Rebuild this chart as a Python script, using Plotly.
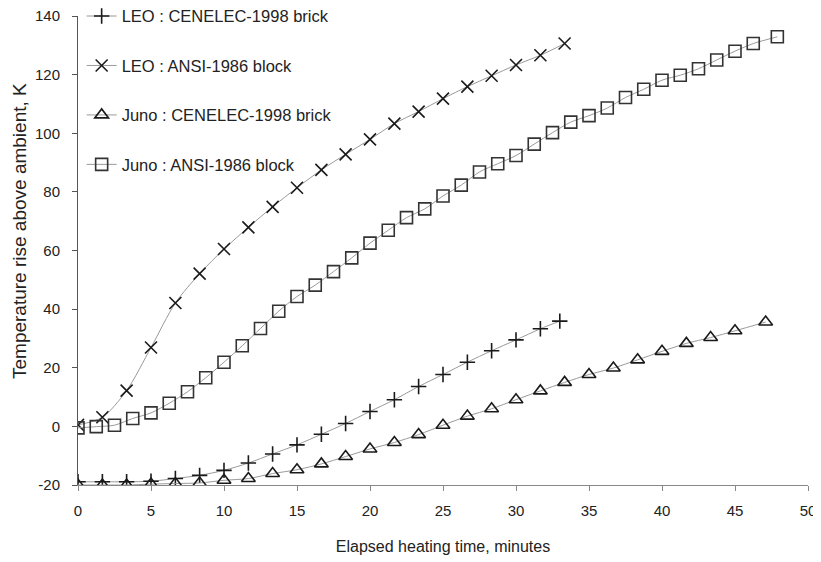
import plotly.graph_objects as go

# ---- data ----
leo_cen_t = [0, 1.67, 3.33, 5, 6.67, 8.33, 10, 11.67, 13.33, 15, 16.67, 18.33, 20,
             21.67, 23.33, 25, 26.67, 28.33, 30, 31.67, 33.0]
leo_cen_v = [-18.9, -18.9, -18.9, -18.7, -17.8, -16.7, -15.0, -12.5, -9.4, -6.3, -2.7,
             1.0, 5.1, 9.1, 13.6, 17.7, 21.9, 25.8, 29.5, 33.3, 35.9]

leo_ansi_t = [0, 1.67, 3.33, 5, 6.67, 8.33, 10, 11.67, 13.33, 15, 16.67, 18.33, 20,
              21.67, 23.33, 25, 26.67, 28.33, 30, 31.67, 33.33]
leo_ansi_v = [0.5, 3.1, 12.2, 26.9, 42.1, 52.1, 60.5, 67.9, 74.9, 81.4, 87.5, 92.8,
              97.9, 103.3, 107.4, 111.8, 115.9, 119.6, 123.3, 126.6, 130.6]

juno_cen_t = [0, 1.67, 3.33, 5, 6.67, 8.33, 10, 11.67, 13.33, 15, 16.67, 18.33, 20,
              21.67, 23.33, 25, 26.67, 28.33, 30, 31.67, 33.33, 35, 36.67, 38.33, 40,
              41.67, 43.33, 45, 47.1]
juno_cen_v = [-20.0, -20.0, -20.0, -19.7, -19.5, -19.3, -18.4, -17.8, -16.1, -14.8,
              -12.8, -10.3, -7.7, -5.5, -2.8, 0.4, 3.5, 6.0, 9.1, 12.1, 15.0, 17.7,
              19.9, 22.7, 25.6, 28.3, 30.3, 32.6, 35.6]

juno_ansi_t = [0, 1.25, 2.5, 3.75, 5, 6.25, 7.5, 8.75, 10, 11.25, 12.5, 13.75, 15,
               16.25, 17.5, 18.75, 20, 21.25, 22.5, 23.75, 25, 26.25, 27.5, 28.75,
               30, 31.25, 32.5, 33.75, 35, 36.25, 37.5, 38.75, 40, 41.25, 42.5,
               43.75, 45, 46.25, 47.9]
juno_ansi_v = [-0.5, -0.1, 0.4, 2.7, 4.6, 7.9, 11.8, 16.6, 21.9, 27.5, 33.4, 39.3,
               44.3, 48.2, 52.8, 57.5, 62.5, 66.9, 71.2, 74.2, 78.6, 82.3, 86.8,
               89.6, 92.4, 96.3, 100.2, 103.8, 106.0, 108.6, 112.2, 115.0, 118.1,
               119.8, 122.0, 125.0, 128.0, 130.6, 132.9]

series_names = ["LEO : CENELEC-1998 brick", "LEO : ANSI-1986 block",
                "Juno : CENELEC-1998 brick", "Juno : ANSI-1986 block"]

x_ticks = [0, 5, 10, 15, 20, 25, 30, 35, 40, 45, 50]
y_ticks = [-20, 0, 20, 40, 60, 80, 100, 120, 140]
y_tick_text = ["-20", "0", "20", "40", "60", "80", "100", "120", "140"]

LINE_COL = "#9a9a9a"
MARK_COL = "#1a1a1a"

specs = [
    (leo_cen_t, leo_cen_v, "cross-thin-open", 11, MARK_COL),
    (leo_ansi_t, leo_ansi_v, "x-thin-open", 12, MARK_COL),
    (juno_cen_t, juno_cen_v, "triangle-up-open", 12, MARK_COL),
    (juno_ansi_t, juno_ansi_v, "square-open", 12, "#333333"),
]

fig = go.Figure()
for i, ((t, v, sym, sz, mc), name) in enumerate(zip(specs, series_names)):
    fig.add_trace(go.Scatter(
        x=t, y=v, name=name, mode="lines+markers", legendgroup=f"g{i}",
        line=dict(color=LINE_COL, width=1, shape="spline", smoothing=0.8),
        marker=dict(symbol=sym, size=sz, color=mc,
                    line=dict(color=mc, width=1.6)),
    ))

fig.update_layout(
    width=821, height=562,
    margin=dict(l=70, r=21, t=8, b=85, autoexpand=False),
    paper_bgcolor="white", plot_bgcolor="white",
    font=dict(family="Liberation Sans, Arial, sans-serif", color="#222", size=15),
    showlegend=True,
    legend=dict(x=0.005, y=1.0367, xanchor="left", yanchor="top",
                bgcolor="rgba(0,0,0,0)", font=dict(size=16.5),
                traceorder="grouped", tracegroupgap=25),
    xaxis=dict(range=[0, 50], tickvals=x_ticks, showgrid=False, zeroline=False,
               showline=True, linecolor="#888", linewidth=1,
               ticks="outside", ticklen=5, tickcolor="#888",
               ticklabelstandoff=7, automargin=False,
               ticklabeloverflow="allow",
               title=dict(text="Elapsed heating time, minutes",
                          font=dict(size=16), standoff=22)),
    yaxis=dict(range=[-20, 140], tickvals=y_ticks, ticktext=y_tick_text,
               showgrid=False, zeroline=False,
               showline=True, linecolor="#555", linewidth=1,
               ticks="outside", ticklen=5, tickcolor="#555",
               ticklabelstandoff=9, automargin=False,
               ticklabeloverflow="allow"),
    annotations=[dict(text="Temperature rise above ambient, K",
                      xref="paper", yref="paper", x=0, y=0.5416,
                      xanchor="center", yanchor="middle", xshift=-58,
                      textangle=-90, showarrow=False, font=dict(size=19))],
)

fig.write_html("out.html")
